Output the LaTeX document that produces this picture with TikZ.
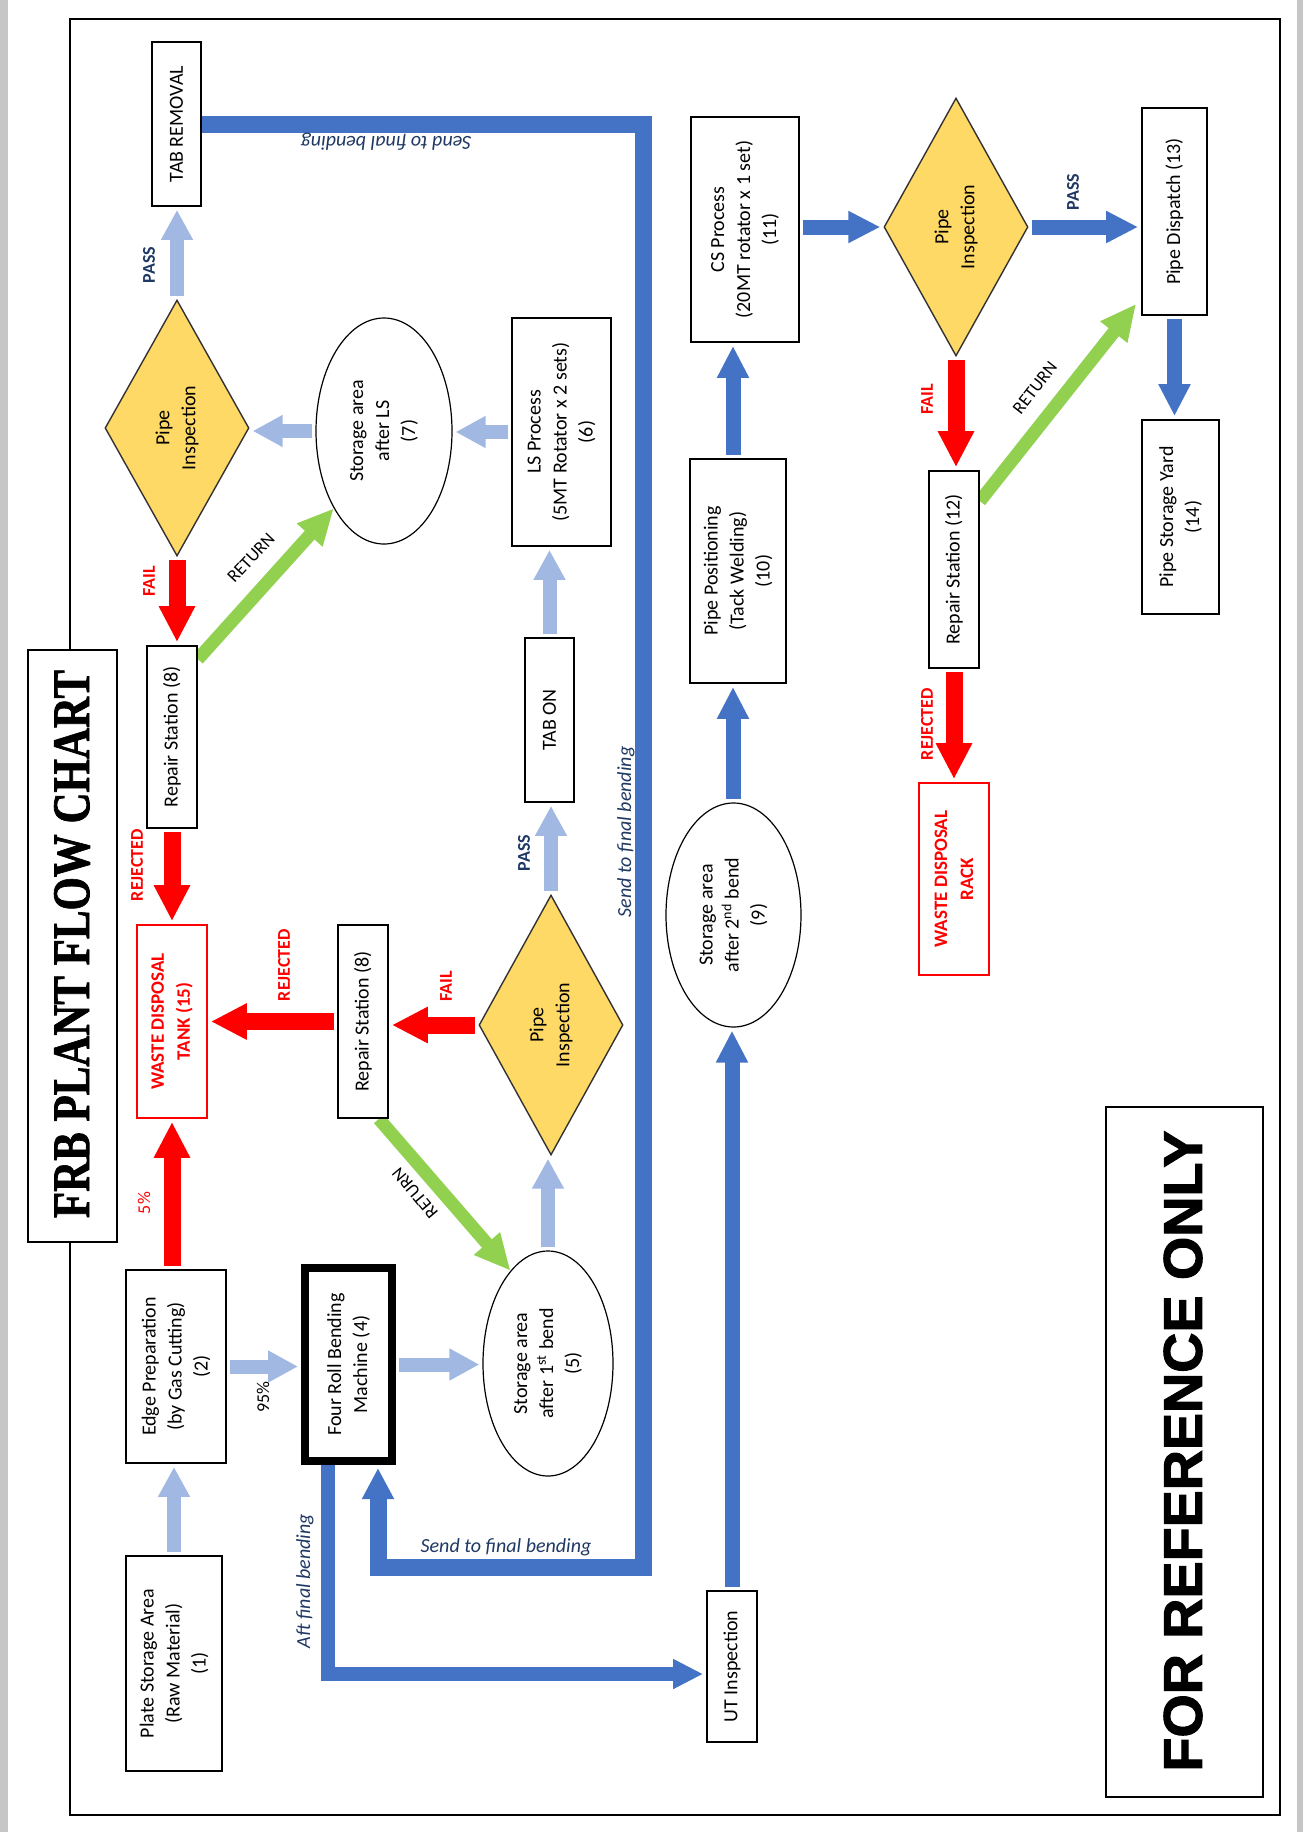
\documentclass[tikz,border=0pt]{standalone}
\usepackage{fontspec}
\usepackage{graphicx}
\setmainfont{Carlito}
\newfontfamily\titlefont{Liberation Serif}[BoldFeatures={FakeBold=1.5}]
\newfontfamily\heavyfont{Liberation Sans}[BoldFeatures={FakeBold=2}]
\usetikzlibrary{arrows.meta,shapes.geometric,fit,calc}
\pgfdeclarelayer{bg}
\pgfsetlayers{bg,main}
\definecolor{lblue}{RGB}{160,184,226}
\definecolor{dblue}{RGB}{68,114,196}
\definecolor{fgreen}{RGB}{146,208,80}
\definecolor{gold}{RGB}{255,217,102}
\definecolor{navy}{RGB}{31,56,100}
\tikzset{
 box/.style={draw=black, line width=0.9pt, fill=white, inner sep=0pt},
 redbox/.style={draw=red, line width=0.9pt, fill=white, inner sep=0pt},
 ell/.style={ellipse, draw=black, line width=0.6pt, fill=white, inner sep=0pt},
 dia/.style={diamond, draw=black!80, line width=0.7pt, fill=gold, inner sep=0pt},
 txt/.style={rotate=90, align=center, inner sep=0pt, font=\fontsize{10}{13}\selectfont},
 redtxt/.style={rotate=90, align=center, inner sep=0pt, text=red, font=\fontsize{9.5}{13}\selectfont\bfseries},
 lbl/.style={rotate=90, inner sep=0pt, font=\fontsize{9}{11}\selectfont\bfseries},
 passl/.style={lbl, text=navy},
 faill/.style={lbl, text=red},
 retl/.style={inner sep=0pt, font=\fontsize{9}{11}\selectfont},
 notetxt/.style={inner sep=0pt, text=navy, font=\fontsize{10}{12}\selectfont\itshape},
 lbar/.style={draw=lblue, line width=7pt, -{Triangle[width=15pt,length=15pt]}, shorten <=1.5pt, shorten >=1.5pt},
 dbar/.style={draw=dblue, line width=7.5pt, -{Triangle[width=15pt,length=16pt]}, shorten <=1.5pt, shorten >=1.5pt},
 rdar/.style={draw=red, line width=8.5pt, -{Triangle[width=17pt,length=18pt]}, shorten <=1.5pt, shorten >=1.5pt},
 grar/.style={draw=fgreen, line width=6.5pt, -{Triangle[width=16pt,length=18pt]}},
 bigline/.style={draw=dblue, line width=8.5pt, line join=miter},
}
\begin{document}
\begin{tikzpicture}[x=0.5pt,y=-0.5pt]
\useasboundingbox (0,0) rectangle (1303,1832);

% ---- column 1
\node[box, fit={(152,42) (201,206)}] (tabrem) {};
\node[txt] (tabrem-t) at (tabrem) {TAB REMOVAL};
\node[dia, minimum width=72pt, minimum height=128pt] (d1) at (177,428) {};
\node[txt] (d1-t) at (d1) {Pipe\\Inspection};
\node[box, fit={(147,646) (197,828)}] (r8a) {};
\node[txt] (r8a-t) at (r8a) {Repair Station (8)};
\node[redbox, fit={(137,925) (207,1118)}] (wt) {};
\node[redtxt] (wt-t) at (wt) {WASTE DISPOSAL\\TANK (15)};
\node[box, fit={(126,1270) (226,1463)}] (ep) {};
\node[txt] (ep-t) at (ep) {Edge Preparation\\(by Gas Cutting)\\(2)};
\node[box, fit={(126,1556) (222,1771)}] (ps) {};
\node[txt] (ps-t) at (ps) {Plate Storage Area\\(Raw Material)\\(1)};

% ---- title
\node[box, fit={(28,650) (117,1242)}] (tbox) {};
\node[rotate=90, inner sep=0pt] (tbox-t) at (72,944) {\resizebox{274pt}{17.5pt}{\titlefont\bfseries FRB PLANT FLOW CHART}};

% ---- column 2
\node[ell, minimum width=68pt, minimum height=113pt] (e7) at (384,431) {};
\node[txt] (e7-t) at (e7) {Storage area\\after LS\\(7)};
\node[box, fit={(338,925) (388,1118)}] (r8b) {};
\node[txt] (r8b-t) at (r8b) {Repair Station (8)};
\node[box, line width=4pt, fit={(305,1268) (392,1461)}] (fr) {};
\node[txt] (fr-t) at (fr) {Four Roll Bending\\Machine (4)};

% ---- column 3
\node[box, fit={(512,318) (611,546)}] (ls) {};
\node[txt] (ls-t) at (ls) {LS Process\\(5MT Rotator x 2 sets)\\(6)};
\node[box, fit={(525,638) (574,802)}] (tabon) {};
\node[txt] (tabon-t) at (tabon) {TAB ON};
\node[dia, minimum width=72pt, minimum height=130pt] (d2) at (551,1025) {};
\node[txt] (d2-t) at (d2) {Pipe\\Inspection};
\node[ell, minimum width=65pt, minimum height=112.5pt] (e5) at (548,1363.5) {};
\node[txt] (e5-t) at (e5) {Storage area\\after 1\textsuperscript{st} bend\\(5)};

% ---- column 4
\node[box, fit={(691,117) (799,342)}] (cs) {};
\node[txt] (cs-t) at (cs) {CS Process\\(20MT rotator x 1 set)\\(11)};
\node[box, fit={(690,459) (786,683)}] (pp) {};
\node[txt] (pp-t) at (pp) {Pipe Positioning\\(Tack Welding)\\(10)};
\node[ell, minimum width=67.5pt, minimum height=112pt] (e9) at (733.5,915) {};
\node[txt] (e9-t) at (e9) {Storage area\\after 2\textsuperscript{nd} bend\\(9)};
\node[box, fit={(707,1591) (757,1742)}] (ut) {};
\node[txt] (ut-t) at (ut) {UT Inspection};

% ---- column 5
\node[dia, minimum width=72pt, minimum height=129pt] (d3) at (956,227) {};
\node[txt] (d3-t) at (d3) {Pipe\\Inspection};
\node[box, fit={(929,471) (979,668)}] (r12) {};
\node[txt] (r12-t) at (r12) {Repair Station (12)};
\node[redbox, fit={(919,783) (989,975)}] (wr) {};
\node[redtxt] (wr-t) at (wr) {WASTE DISPOSAL\\RACK};

% ---- column 6
\node[box, fit={(1142,108) (1207,315)}] (pd) {};
\node[txt] (pd-t) at (pd) {Pipe Dispatch (13)};
\node[box, fit={(1142,420) (1219,614)}] (psy) {};
\node[txt] (psy-t) at (psy) {Pipe Storage Yard\\(14)};

% ---- reference box
\node[box, fit={(1106,1107) (1263,1797)}] (ref) {};
\node[rotate=90, inner sep=0pt] (ref-t) at (1183,1451) {\resizebox{320.5pt}{19pt}{\heavyfont\bfseries FOR REFERENCE ONLY}};

% ---- coordinates for the routed lines
\coordinate (c1) at (643,124);
\coordinate (c2) at (643,1567);
\coordinate (c3) at (378,1567);
\coordinate (c4) at (328,1674);
\coordinate (x4) at (733,0);

\begin{pgfonlayer}{bg}
\fill[white] (0,0) rectangle (1303,1832);
\fill[gray!45] (0,0) rectangle (8,1832);
\fill[gray!45] (1297,0) rectangle (1303,1832);
\draw[line width=0.8pt] (70,19) rectangle (1280,1815);

% column 1 flows
\draw[lbar] (ps.north) -- (ps.north |- ep.south);
\draw[rdar] (ep.north -| wt) -- (wt.south);
\draw[rdar] (r8a.south) -- (r8a.south |- wt.north);
\draw[rdar] (d1.south) -- (d1.south |- r8a.north);
\draw[lbar] (d1.north) -- (d1.north |- tabrem.south);
\draw[lbar] (e7.west) -- (e7.west -| d1.east);
\draw[lbar] (ls.west) -- (ls.west -| e7.east);
\draw[lbar] (tabon.north) -- (tabon.north |- ls.south);
\draw[lbar] (d2.north) -- (d2.north |- tabon.south);
\draw[lbar] (e5.north) -- (e5.north |- d2.south);
\draw[lbar] (fr.east) -- (fr.east -| e5.west);
\draw[lbar] (ep.east) -- (ep.east -| fr.west);
\draw[rdar] (d2.west) -- (d2.west -| r8b.east);
\draw[rdar] (r8b.west) -- (r8b.west -| wt.east);
\draw[grar] ($(r8a.north east)+(0,14)$) -- (e7.237);
\draw[grar] ($(r8b.south east)+(-10,0)$) -- (e5.112);

% big blue routes
\draw[bigline, -{Triangle[width=15pt,length=15.5pt]}, shorten >=1.5pt] (tabrem.east) -- (c1) -- (c2) -- (c3) -- (c3 |- fr.south);
\draw[draw=dblue, line width=7pt, line join=miter, -{Triangle[width=14pt,length=15pt]}, shorten >=1.5pt] (c4 |- fr.south) -- (c4) -- (c4 -| ut.west);

% column 4-6 flows
\draw[dbar] (ut.north) -- (ut.north |- e9.south);
\draw[dbar] (x4 |- e9.north) -- (x4 |- pp.south);
\draw[dbar] (x4 |- pp.north) -- (x4 |- cs.south);
\draw[dbar] (cs.east |- d3.west) -- (d3.west);
\draw[dbar] (d3.east) -- (d3.east -| pd.west);
\draw[dbar] (pd.south) -- (pd.south |- psy.north);
\draw[rdar] (d3.south) -- (d3.south |- r12.north);
\draw[rdar] (r12.south) -- (r12.south |- wr.north);
\draw[grar] ($(r12.north east)+(0,31)$) -- ($(pd.south west)+(-5,-12)$);
\end{pgfonlayer}

% ---- labels
\node[passl] (l-pass1) at (149,265) {PASS};
\node[faill] (l-fail1) at (149,581) {FAIL};
\node[retl, rotate=47] (l-ret1) at (251,558) {RETURN};
\node[faill] (l-rej1) at (137,865) {REJECTED};
\node[retl, rotate=90, text=red] (l-5) at (144,1203) {5\%};
\node[faill] (l-rej2) at (284,965) {REJECTED};
\node[faill] (l-fail2) at (446,986) {FAIL};
\node[passl] (l-pass2) at (524,853) {PASS};
\node[retl, rotate=130] (l-ret2) at (415,1193) {RETURN};
\node[retl, rotate=90] (l-95) at (263,1397) {95\%};
\node[notetxt, rotate=180] (n-send1) at (386,142) {Send to final bending};
\node[notetxt, rotate=90] (n-send2) at (626,832) {Send to final bending};
\node[notetxt] (n-send3) at (506,1547) {Send to final bending};
\node[notetxt, rotate=90] (n-aft) at (305,1581) {Aft final bending};
\node[faill] (l-fail3) at (927,399) {FAIL};
\node[passl] (l-pass3) at (1073,192) {PASS};
\node[retl, rotate=52] (l-ret3) at (1035,388) {RETURN};
\node[faill] (l-rej3) at (927,724) {REJECTED};
\end{tikzpicture}
\end{document}
